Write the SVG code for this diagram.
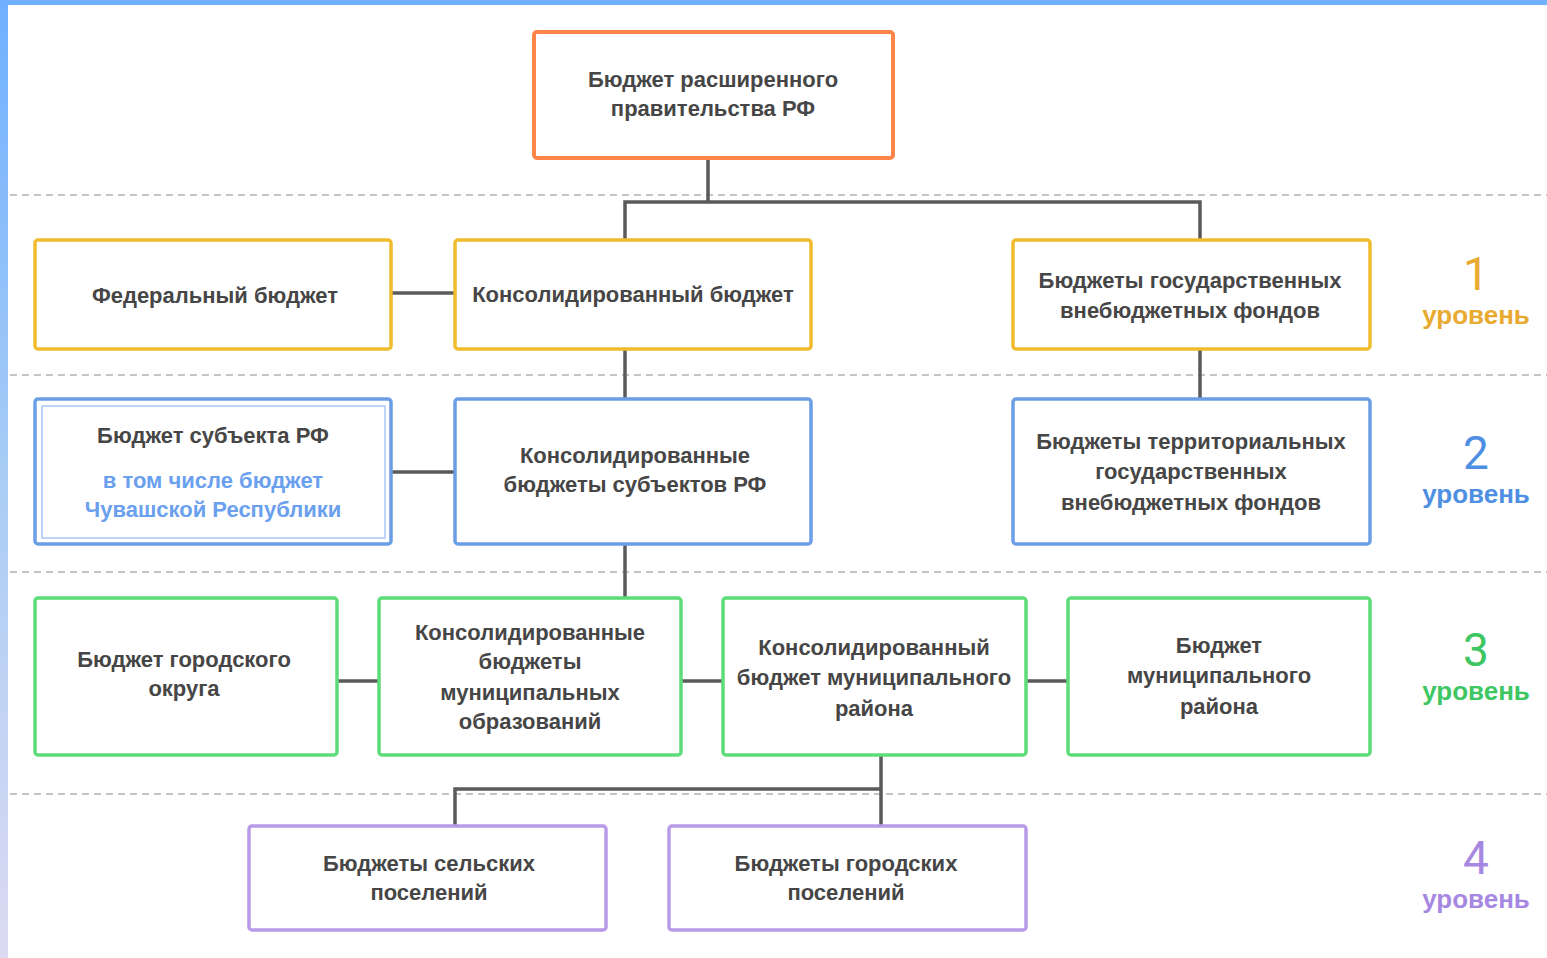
<svg xmlns="http://www.w3.org/2000/svg" width="1547" height="958" viewBox="0 0 1547 958">
<defs>
<linearGradient id="side" x1="0" y1="0" x2="0" y2="1">
<stop offset="0" stop-color="#6fb0ff"/>
<stop offset="0.5" stop-color="#a9cdf5"/>
<stop offset="1" stop-color="#dcdaf2"/>
</linearGradient>
</defs>
<style>
.sep{stroke:#c4c4c4;stroke-width:2;stroke-dasharray:7 5;fill:none}
.con{stroke:#5a5a5a;stroke-width:3.5;fill:none}
.box{fill:#fff;stroke-width:3.5}
.o{stroke:#ff8448;stroke-width:4}
.y{stroke:#f0bc2e}
.b{stroke:#6a9fe6}
.g{stroke:#5ddc78}
.p{stroke:#b99ae8}
.t{font-family:"Liberation Sans",Arial,sans-serif;font-weight:bold;font-size:22px;fill:#464646;text-anchor:middle}
.tb{fill:#6aa0ee}
.num{font-family:"Roboto","Liberation Sans",sans-serif;font-size:46px;text-anchor:middle}
.lvl{font-family:"Liberation Sans",Arial,sans-serif;font-weight:bold;font-size:26px;text-anchor:middle}
</style>
<rect x="0" y="0" width="1547" height="958" fill="#fff"/>
<rect x="0" y="0" width="1547" height="5" fill="#6fb0ff"/>
<rect x="0" y="0" width="8" height="958" fill="url(#side)"/>
<g id="separators">
<line class="sep" x1="10" y1="195" x2="1547" y2="195"/>
<line class="sep" x1="10" y1="375" x2="1547" y2="375"/>
<line class="sep" x1="10" y1="572" x2="1547" y2="572"/>
<line class="sep" x1="10" y1="794" x2="1547" y2="794"/>
</g>
<g id="connectors">
<polyline class="con" points="708,158 708,202"/>
<polyline class="con" points="625,240 625,202 1200,202 1200,240"/>
<line class="con" x1="391" y1="293" x2="455" y2="293"/>
<line class="con" x1="625" y1="349" x2="625" y2="399"/>
<line class="con" x1="1200" y1="349" x2="1200" y2="399"/>
<line class="con" x1="391" y1="472" x2="455" y2="472"/>
<line class="con" x1="625" y1="544" x2="625" y2="598"/>
<line class="con" x1="337" y1="681" x2="379" y2="681"/>
<line class="con" x1="681" y1="681" x2="723" y2="681"/>
<line class="con" x1="1026" y1="681" x2="1068" y2="681"/>
<line class="con" x1="881" y1="755" x2="881" y2="826"/>
<polyline class="con" points="455,826 455,789 881,789"/>
</g>
<g id="n-top">
<rect class="box o" x="534" y="32" width="359" height="126" rx="3"/>
<text class="t" x="713" y="87">Бюджет расширенного</text>
<text class="t" x="713" y="116">правительства РФ</text>
</g>
<g id="n-federal">
<rect class="box y" x="35" y="240" width="356" height="109" rx="3"/>
<text class="t" x="215" y="303">Федеральный бюджет</text>
</g>
<g id="n-consolidated">
<rect class="box y" x="455" y="240" width="356" height="109" rx="3"/>
<text class="t" x="633" y="302">Консолидированный бюджет</text>
</g>
<g id="n-funds">
<rect class="box y" x="1013" y="240" width="357" height="109" rx="3"/>
<text class="t" x="1190" y="288">Бюджеты государственных</text>
<text class="t" x="1190" y="318">внебюджетных фондов</text>
</g>
<g id="n-subject">
<rect class="box b" x="35" y="399" width="356" height="145" rx="3"/>
<rect x="42" y="406" width="343" height="132" fill="none" stroke="#a8c9f5" stroke-width="1.5"/>
<text class="t" x="213" y="443">Бюджет субъекта РФ</text>
<text class="t tb" x="213" y="488">в том числе бюджет</text>
<text class="t tb" x="213" y="517">Чувашской Республики</text>
</g>
<g id="n-consol-subjects">
<rect class="box b" x="455" y="399" width="356" height="145" rx="3"/>
<text class="t" x="635" y="463">Консолидированные</text>
<text class="t" x="635" y="492">бюджеты субъектов РФ</text>
</g>
<g id="n-territorial">
<rect class="box b" x="1013" y="399" width="357" height="145" rx="3"/>
<text class="t" x="1191" y="449">Бюджеты территориальных</text>
<text class="t" x="1191" y="479">государственных</text>
<text class="t" x="1191" y="510">внебюджетных фондов</text>
</g>
<g id="n-city-district">
<rect class="box g" x="35" y="598" width="302" height="157" rx="3"/>
<text class="t" x="184" y="667">Бюджет городского</text>
<text class="t" x="184" y="696">округа</text>
</g>
<g id="n-consol-municipal">
<rect class="box g" x="379" y="598" width="302" height="157" rx="3"/>
<text class="t" x="530" y="640">Консолидированные</text>
<text class="t" x="530" y="669">бюджеты</text>
<text class="t" x="530" y="700">муниципальных</text>
<text class="t" x="530" y="729">образований</text>
</g>
<g id="n-consol-district">
<rect class="box g" x="723" y="598" width="303" height="157" rx="3"/>
<text class="t" x="874" y="655">Консолидированный</text>
<text class="t" x="874" y="685">бюджет муниципального</text>
<text class="t" x="874" y="716">района</text>
</g>
<g id="n-municipal-district">
<rect class="box g" x="1068" y="598" width="302" height="157" rx="3"/>
<text class="t" x="1219" y="653">Бюджет</text>
<text class="t" x="1219" y="683">муниципального</text>
<text class="t" x="1219" y="714">района</text>
</g>
<g id="n-rural">
<rect class="box p" x="249" y="826" width="357" height="104" rx="3"/>
<text class="t" x="429" y="871">Бюджеты сельских</text>
<text class="t" x="429" y="900">поселений</text>
</g>
<g id="n-urban">
<rect class="box p" x="669" y="826" width="357" height="104" rx="3"/>
<text class="t" x="846" y="871">Бюджеты городских</text>
<text class="t" x="846" y="900">поселений</text>
</g>
<g id="levels">
<text class="num" x="1476" y="290" fill="#e8aa30">1</text>
<text class="lvl" x="1476" y="324" fill="#e8aa30">уровень</text>
<text class="num" x="1476" y="469" fill="#4f8fe3">2</text>
<text class="lvl" x="1476" y="503" fill="#4f8fe3">уровень</text>
<text class="num" x="1476" y="666" fill="#3ec663">3</text>
<text class="lvl" x="1476" y="700" fill="#3ec663">уровень</text>
<text class="num" x="1476" y="874" fill="#a688e2">4</text>
<text class="lvl" x="1476" y="908" fill="#a688e2">уровень</text>
</g>
</svg>
